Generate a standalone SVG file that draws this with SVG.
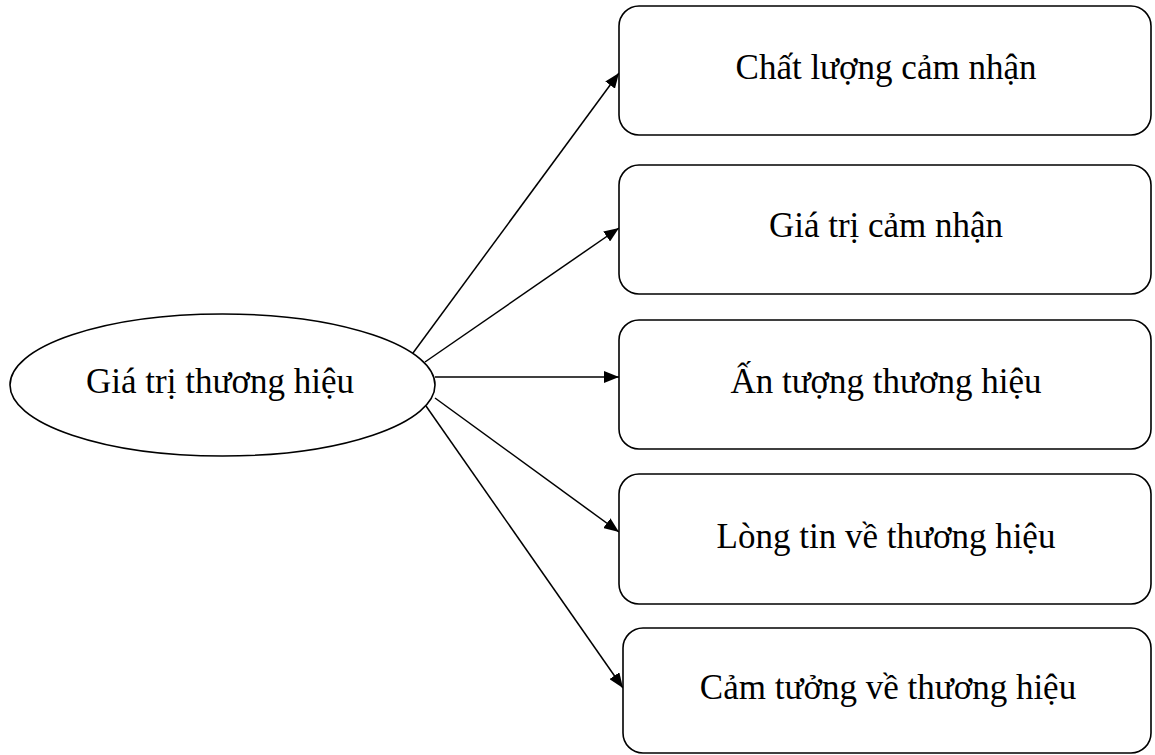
<svg xmlns="http://www.w3.org/2000/svg" width="1155" height="755" viewBox="0 0 1155 755">
  <style>
    .shape { fill: #ffffff; stroke: #000000; stroke-width: 1.6; }
    .label { font-family: "Liberation Serif", "Times New Roman", serif; font-size: 35px; fill: #000000; text-anchor: middle; }
    .link { stroke: #000000; stroke-width: 1.5; fill: none; marker-end: url(#arrow); }
  </style>
  <defs>
    <marker id="arrow" markerWidth="16" markerHeight="12" refX="15" refY="6" orient="auto" markerUnits="userSpaceOnUse">
      <path d="M0,0 L15,6 L0,12 Z" fill="#000000"/>
    </marker>
  </defs>
  <rect width="1155" height="755" fill="#ffffff"/>

  <g id="connectors">
    <line class="link" x1="413" y1="353" x2="619" y2="73"/>
    <line class="link" x1="425" y1="362" x2="619" y2="228"/>
    <line class="link" x1="435" y1="377" x2="619" y2="377"/>
    <line class="link" x1="435" y1="398" x2="619" y2="532"/>
    <line class="link" x1="426" y1="406" x2="623" y2="688"/>
  </g>

  <g id="brand-equity">
    <ellipse class="shape" cx="222.5" cy="385" rx="212.5" ry="71"/>
    <text class="label" x="220" y="393">Giá trị thương hiệu</text>
  </g>

  <g id="perceived-quality">
    <rect class="shape" x="619" y="6" width="532" height="129" rx="20"/>
    <text class="label" x="886" y="79">Chất lượng cảm nhận</text>
  </g>

  <g id="perceived-value">
    <rect class="shape" x="619" y="165" width="532" height="129" rx="20"/>
    <text class="label" x="886" y="237">Giá trị cảm nhận</text>
  </g>

  <g id="brand-impression">
    <rect class="shape" x="619" y="320" width="532" height="129" rx="20"/>
    <text class="label" x="886" y="393">Ấn tượng thương hiệu</text>
  </g>

  <g id="brand-trust">
    <rect class="shape" x="619" y="474" width="532" height="130" rx="20"/>
    <text class="label" x="886" y="548">Lòng tin về thương hiệu</text>
  </g>

  <g id="brand-feeling">
    <rect class="shape" x="623" y="628" width="528" height="125" rx="20"/>
    <text class="label" x="888" y="699">Cảm tưởng về thương hiệu</text>
  </g>
</svg>
